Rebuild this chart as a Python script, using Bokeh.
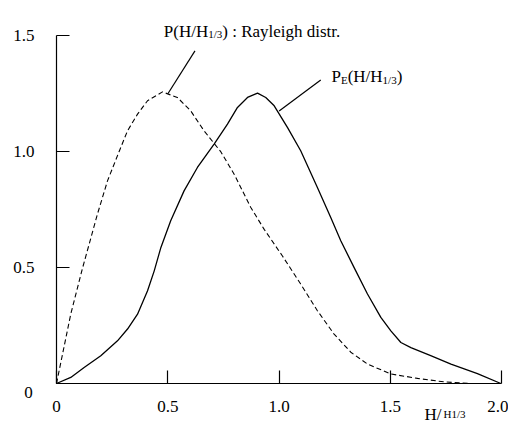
from bokeh.plotting import figure
from bokeh.models import Range1d, FixedTicker, Label, NumeralTickFormatter, LinearAxis
from bokeh.embed import file_html
from bokeh.resources import INLINE

# ---- data ----
ray_x = [0, 0.064, 0.117, 0.184, 0.229, 0.281, 0.319, 0.364, 0.409, 0.476, 0.543, 0.603,
         0.663, 0.738, 0.798, 0.873, 0.933, 1.015, 1.097, 1.172, 1.247, 1.322, 1.397, 1.502,
         1.622, 1.741, 1.861]
ray_y = [0, 0.299, 0.498, 0.731, 0.874, 1.0, 1.090, 1.162, 1.220, 1.258, 1.234, 1.176,
         1.090, 1.0, 0.903, 0.759, 0.665, 0.55, 0.429, 0.314, 0.213, 0.135, 0.084, 0.041,
         0.022, 0.007, 0.0]

pe_x = [0, 0.064, 0.124, 0.199, 0.274, 0.319, 0.364, 0.409, 0.439, 0.469, 0.513, 0.573,
        0.633, 0.708, 0.768, 0.813, 0.858, 0.903, 0.940, 0.978, 1.038, 1.097, 1.172, 1.232,
        1.277, 1.337, 1.397, 1.457, 1.502, 1.547, 1.592, 1.681, 1.772, 1.891, 1.996]
pe_y = [0, 0.026, 0.069, 0.120, 0.184, 0.235, 0.299, 0.400, 0.486, 0.587, 0.702, 0.831,
        0.932, 1.033, 1.119, 1.191, 1.234, 1.253, 1.234, 1.198, 1.104, 1.004, 0.846, 0.716,
        0.616, 0.500, 0.386, 0.285, 0.227, 0.177, 0.155, 0.120, 0.084, 0.043, 0.0]

x_ticks = [0, 0.5, 1.0, 1.5, 2.0]
y_ticks = [0, 0.5, 1.0, 1.5]

lead1_x = [0.622, 0.501]
lead1_y = [1.435, 1.251]
lead2_x = [1.187, 1.0]
lead2_y = [1.309, 1.176]

FONT = "Liberation Serif"

# frame fills the whole canvas; axes sit at x=0 / y=0 via fixed_location
p = figure(width=508, height=424, output_backend="svg", toolbar_location=None,
           x_range=Range1d(-0.2516, 2.0305), y_range=Range1d(-0.1769, 1.6523),
           x_axis_type=None, y_axis_type=None, min_border=0)
p.outline_line_color = None
p.grid.visible = False

xaxis = LinearAxis(fixed_location=0)
yaxis = LinearAxis(fixed_location=0)
p.add_layout(xaxis, "below")
p.add_layout(yaxis, "left")

for ax in (xaxis, yaxis):
    ax.axis_line_color = "black"
    ax.axis_line_width = 1.2
    ax.major_tick_line_color = "black"
    ax.major_tick_line_width = 1.2
    ax.major_tick_in = 13
    ax.major_tick_out = 0
    ax.minor_tick_line_color = None
    ax.major_label_text_font = FONT
    ax.major_label_text_font_size = "17px"
    ax.major_label_text_color = "black"
    ax.formatter = NumeralTickFormatter(format="0.0")

xaxis.ticker = FixedTicker(ticks=x_ticks)
yaxis.ticker = FixedTicker(ticks=y_ticks)
xaxis.bounds = (0, 2.0)
yaxis.bounds = (0, 1.5)
xaxis.major_label_overrides = {0: "0"}
yaxis.major_label_overrides = {0: ""}
xaxis.major_label_standoff = 18
yaxis.major_label_standoff = 22

p.line(ray_x, ray_y, line_color="black", line_width=1.1, line_dash="5 3", line_join="round")
p.line(pe_x, pe_y, line_color="black", line_width=1.3, line_join="round")
p.line(lead1_x, lead1_y, line_color="black", line_width=1.2)
p.line(lead2_x, lead2_y, line_color="black", line_width=1.2)

W = {'P': 0.556, 'E': 0.611, 'H': 0.722, 'R': 0.667, '(': 0.333, ')': 0.333, '/': 0.278,
     '1': 0.5, '3': 0.5, '0': 0.5, ' ': 0.25, ':': 0.278, '.': 0.25, 'a': 0.444,
     'y': 0.5, 'l': 0.278, 'e': 0.444, 'i': 0.278, 'g': 0.5, 'h': 0.5, 'd': 0.5,
     's': 0.389, 't': 0.278, 'r': 0.333}


def compose(x, y, pieces):
    off = 0.0
    for txt, size, dy in pieces:
        p.add_layout(Label(x=x, y=y, x_offset=off, y_offset=dy, text=txt,
                           text_font=FONT, text_font_size=f"{size}px",
                           text_baseline="alphabetic", text_color="black"))
        off += sum(W.get(c, 0.5) for c in txt) * size + (2 if txt.endswith("/") else 0)


BIG, SUB = 17, 11
compose(0.482, 1.519, [("P(H/H", BIG, 0), ("1/3", SUB, -3), (") : Rayleigh distr.", BIG, 0)])
compose(1.2354, 1.323, [("P", BIG, 0), ("E", SUB, -3), ("(H/H", BIG, 0), ("1/3", SUB, -3), (")", BIG, 0)])
compose(1.653, -0.133, [("H/", BIG, 0), ("H1/3", SUB, 0)])
p.add_layout(Label(x=-0.126, y=-0.039, text="0", text_font=FONT, text_font_size="17px",
                   text_align="center", text_baseline="middle", text_color="black"))

open("out.html", "w").write(file_html(p, INLINE))
